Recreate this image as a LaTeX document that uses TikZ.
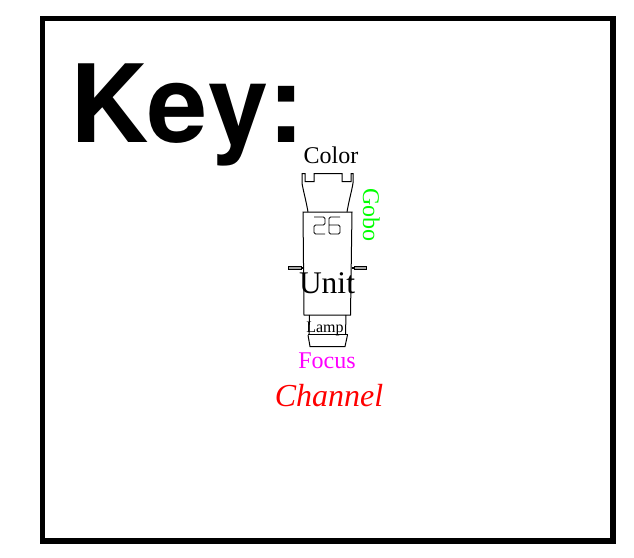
\documentclass[tikz,border=0pt]{standalone}
\usepackage{fontspec}
\setmainfont{Liberation Serif}
\newfontfamily\keyfont[Kerning=Off]{TeX Gyre Heros}
\definecolor{gobogreen}{rgb}{0,1,0}
\definecolor{focusmagenta}{rgb}{1,0,1}
\definecolor{channelred}{rgb}{1,0,0}
\begin{document}
\begin{tikzpicture}[x=1pt, y=-1pt, line width=1pt]
	\useasboundingbox (0, 0) rectangle (634, 557);
	\draw[line width=5.5pt] (42.5, 18.5) -- (613, 18.5) -- (613, 541) -- (42.5, 541) -- cycle;
	\node[anchor=base west, inner sep=0pt] (key) at (69.5, 142) {\keyfont\bfseries\fontsize{108}{108}\selectfont Key:};
	
	% yoke
	\draw (308, 212) .. controls (306, 200) and (303, 190) .. (302, 183) -- (302, 173.5) -- (305, 173.5) -- (305, 181.5) -- (314, 181.5) -- (314, 173.5) -- (342, 173.5) -- (342, 181.5) -- (351, 181.5) -- (351, 173.5) -- (353, 173.5) -- (353, 183) .. controls (352, 190) and (349, 200) .. (347, 212);
	% body
	\draw (303, 212) -- (352, 212) -- (350.5, 315) -- (304, 315) -- cycle;
	\draw[fill=gray!70, line width=0.6pt] (288.5, 266.3) -- (301, 266.3) -- (301, 269.7) -- (288.5, 269.7) -- cycle;
	\draw[fill=gray!70, line width=0.6pt] (354, 266.3) -- (366.5, 266.3) -- (366.5, 269.7) -- (354, 269.7) -- cycle;
	\draw[line width=1.5pt] (301, 268) -- (303.5, 268);
	\draw[line width=1.5pt] (351.5, 268) -- (354, 268);
	% lamp and lens
	\draw (309.5, 315) -- (309, 334);
	\draw (346, 315) -- (345.5, 334);
	\draw[line width=1.5pt] (308, 334.5) -- (347.5, 334.5);
	\draw (308, 335) -- (310, 346.5) -- (345, 346.5) -- (347.5, 335);
	% number
	\draw[line width=0.8pt, rounded corners=1.5pt] (314, 217) -- (325, 217) -- (325, 225) -- (314, 225) -- (314, 234) -- (325, 234);
	\draw[line width=0.8pt, rounded corners=1.5pt] (340, 217) -- (329, 217) -- (329, 234) -- (340, 234) -- (340, 225) -- (329, 225);
	
	\node[anchor=base, inner sep=0pt] (color) at (331, 163) {\fontsize{24}{24}\selectfont Color};
	\node[anchor=base west, inner sep=0pt, rotate=-90, gobogreen] (gobo) at (363, 188) {\fontsize{24}{24}\selectfont Gobo};
	\node[anchor=base, inner sep=0pt] (unit) at (327, 293) {\fontsize{31.5}{31.5}\selectfont Unit};
	\node[anchor=base, inner sep=0pt] (lamp) at (325, 332) {\fontsize{16}{16}\selectfont Lamp};
	\node[anchor=base, inner sep=0pt, focusmagenta] (focus) at (327, 368) {\fontsize{24}{24}\selectfont Focus};
	\node[anchor=base, inner sep=0pt, channelred] (channel) at (329, 406) {\fontsize{32}{32}\selectfont\itshape Channel};
\end{tikzpicture}
\end{document}
